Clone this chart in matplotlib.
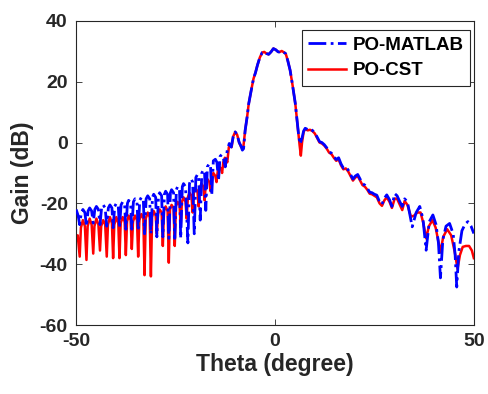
import matplotlib
matplotlib.use('Agg')
import matplotlib.pyplot as plt

# radiation pattern, PO-MATLAB vs PO-CST
theta_cst = [-50.0, -49.6, -49.1, -48.8, -48.3, -47.8, -47.4, -47.1, -46.6, -46.1,
             -45.7, -45.4, -44.9, -44.4, -44.0, -43.7, -43.2, -42.7, -42.3, -42.0,
             -41.5, -41.0, -40.7, -40.4, -39.9, -39.4, -39.1, -38.8, -38.3, -37.8,
             -37.5, -37.2, -36.8, -36.3, -36.0, -35.7, -35.2, -34.7, -34.4, -34.1,
             -33.6, -33.1, -32.8, -32.5, -32.0, -31.5, -31.2, -30.9, -30.5, -30.0,
             -29.7, -29.4, -29.0, -28.5, -28.2, -27.9, -27.5, -27.0, -26.7, -26.4,
             -26.0, -25.5, -25.2, -24.9, -24.5, -24.0, -23.7, -23.4, -23.0, -22.5,
             -22.2, -21.9, -21.5, -21.0, -20.7, -20.4, -20.0, -19.5, -19.2, -18.9,
             -18.5, -18.0, -17.7, -17.4, -17.0, -16.5, -16.2, -15.9, -15.5, -15.0,
             -14.7, -14.4, -14.0, -13.6, -13.3, -13.0, -12.6, -12.3, -12.0, -11.6,
             -11.3, -10.9, -10.5, -10.0, -9.5, -9.0, -8.5, -8.0, -7.5, -7.0,
             -6.6, -6.0, -5.4, -4.9, -4.4, -3.8, -3.2, -2.7, -2.2, -1.6,
             -1.0, -0.4, 0.2, 0.8, 1.2, 1.7, 2.2, 2.7, 3.2, 3.8,
             4.4, 5.1, 5.6, 5.9, 6.2, 6.5, 6.8, 7.2, 7.6, 8.2,
             8.8, 9.4, 10.0, 10.6, 11.2, 11.8, 12.4, 13.0, 13.6, 14.2,
             14.8, 15.4, 16.0, 16.6, 17.2, 17.8, 18.4, 19.0, 19.6, 20.2,
             20.8, 21.4, 22.0, 22.6, 23.2, 23.8, 24.4, 25.0, 25.6, 26.3,
             26.9, 27.5, 28.1, 28.8, 29.4, 30.1, 30.7, 31.4, 32.0, 32.6,
             33.3, 34.2, 35.0, 35.8, 36.6, 37.3, 38.0, 38.7, 39.6, 40.4,
             41.0, 41.6, 42.3, 43.3, 44.3, 45.2, 45.9, 46.5, 47.2, 48.0,
             48.8, 49.5, 50.0]
gain_cst = [-32.0, -30.5, -37.5, -28.0, -25.5, -27.5, -38.6, -27.5, -25.0, -27.0,
            -36.5, -27.5, -25.0, -27.0, -35.5, -27.5, -25.5, -27.0, -37.5, -27.0,
            -24.5, -26.5, -38.0, -27.0, -24.5, -26.5, -38.0, -26.5, -24.5, -26.0,
            -37.0, -26.0, -24.0, -25.5, -35.0, -26.0, -24.0, -25.5, -37.5, -25.5,
            -23.5, -25.0, -43.6, -25.0, -23.0, -24.5, -44.0, -24.5, -22.5, -24.0,
            -30.0, -23.5, -22.0, -23.0, -34.0, -22.5, -21.0, -22.5, -39.5, -22.0,
            -20.5, -21.5, -34.0, -21.0, -19.5, -20.5, -27.0, -19.5, -18.0, -19.5,
            -25.0, -18.0, -16.5, -17.5, -23.0, -16.5, -15.0, -16.0, -21.0, -15.0,
            -13.5, -14.5, -19.0, -13.5, -12.0, -13.0, -16.0, -11.5, -10.0, -11.0,
            -13.0, -9.5, -8.0, -8.5, -10.0, -6.5, -5.0, -5.5, -6.5, -1.5,
            -0.5, -1.5, 2.0, 3.5, 2.5, 0.0, -1.5, -2.0, 4.0, 8.5,
            12.8, 17.0, 21.0, 23.0, 25.5, 28.0, 29.6, 29.8, 29.3, 29.0,
            29.8, 30.9, 30.5, 29.8, 29.8, 30.1, 29.7, 29.2, 27.0, 23.8,
            19.0, 12.9, 6.5, 3.0, -1.0, -4.3, 0.0, 3.5, 4.5, 4.0,
            4.2, 3.8, 3.0, 1.5, 0.0, -0.3, -1.0, -2.0, -3.3, -3.8,
            -5.0, -6.0, -5.5, -7.5, -8.8, -8.5, -9.5, -11.0, -12.5, -11.5,
            -11.0, -12.5, -14.0, -14.5, -15.5, -16.8, -17.0, -17.5, -18.0, -20.0,
            -20.8, -19.0, -18.0, -19.5, -21.5, -18.4, -18.5, -20.5, -22.2, -19.2,
            -20.5, -24.4, -24.0, -23.0, -23.0, -26.5, -31.5, -27.5, -25.5, -28.0,
            -32.0, -36.0, -31.0, -28.5, -30.5, -36.0, -41.5, -37.0, -34.3, -34.0,
            -34.0, -35.5, -38.0]

theta_mat = [-50.0, -49.5, -49.1, -48.7, -48.3, -47.8, -47.4, -47.0, -46.6, -46.1,
             -45.7, -45.3, -44.9, -44.4, -44.0, -43.6, -43.2, -42.7, -42.3, -41.9,
             -41.5, -41.0, -40.7, -40.3, -39.9, -39.4, -39.1, -38.7, -38.3, -37.8,
             -37.5, -37.1, -36.8, -36.3, -36.0, -35.6, -35.2, -34.7, -34.4, -34.0,
             -33.6, -33.1, -32.8, -32.4, -32.0, -31.5, -31.2, -30.8, -30.5, -30.0,
             -29.7, -29.3, -29.0, -28.5, -28.2, -27.8, -27.5, -27.0, -26.7, -26.3,
             -26.0, -25.5, -25.2, -24.8, -24.5, -24.0, -23.7, -23.3, -23.0, -22.5,
             -21.9, -21.5, -21.1, -20.7, -20.3, -19.9, -19.5, -19.2, -18.8, -18.4,
             -18.0, -17.7, -17.4, -17.0, -16.6, -16.2, -15.9, -15.5, -15.0, -14.6,
             -14.2, -13.8, -13.4, -13.0, -12.5, -12.0, -11.5, -11.0, -10.5, -10.0,
             -9.5, -9.0, -8.6, -8.2, -7.9, -7.5, -7.0, -6.6, -6.0, -5.4,
             -4.9, -4.4, -3.8, -3.2, -2.7, -2.2, -1.6, -1.0, -0.4, 0.2,
             0.8, 1.2, 1.7, 2.2, 2.7, 3.2, 3.8, 4.4, 5.1, 5.6,
             5.9, 6.3, 6.8, 7.2, 7.6, 8.2, 8.8, 9.4, 10.0, 10.6,
             11.2, 11.8, 12.4, 13.0, 13.6, 14.2, 14.8, 15.4, 16.0, 16.6,
             17.2, 17.8, 18.4, 19.0, 19.6, 20.2, 20.8, 21.4, 22.0, 22.6,
             23.2, 23.8, 24.4, 25.0, 25.6, 26.3, 26.9, 27.5, 28.1, 28.8,
             29.4, 30.1, 30.7, 31.4, 32.0, 32.6, 33.3, 34.5, 35.5, 36.4,
             37.2, 38.0, 38.8, 39.7, 40.5, 41.1, 41.6, 42.2, 43.0, 43.9,
             44.8, 45.3, 45.7, 46.2, 47.0, 47.8, 48.5, 49.3, 50.0]
gain_mat = [-22.0, -24.0, -27.0, -23.0, -22.0, -23.0, -27.5, -22.5, -21.5, -22.5,
            -26.5, -22.0, -21.0, -22.0, -27.0, -21.5, -20.5, -21.5, -27.5, -21.5,
            -20.5, -21.5, -28.0, -21.0, -20.0, -21.0, -28.0, -20.5, -19.5, -20.5,
            -28.5, -20.0, -19.0, -20.0, -28.5, -19.5, -18.5, -19.5, -29.0, -19.0,
            -18.0, -19.0, -30.0, -18.5, -17.5, -18.5, -30.0, -18.0, -17.0, -18.0,
            -31.0, -17.5, -16.5, -17.5, -31.0, -17.0, -16.0, -17.0, -31.5, -16.5,
            -15.5, -16.5, -31.5, -15.5, -14.5, -15.5, -31.5, -14.5, -13.5, -14.5,
            -33.0, -13.5, -12.0, -13.0, -30.0, -11.5, -10.5, -11.5, -25.5, -10.0,
            -9.0, -10.0, -22.3, -8.0, -7.0, -8.0, -17.3, -6.0, -5.5, -6.5,
            -12.5, -4.5, -4.0, -5.0, -8.0, -2.5, -0.3, -1.5, 2.0, 3.5,
            2.5, 0.0, -1.0, -2.5, -2.0, 4.0, 8.5, 12.8, 17.0, 21.0,
            23.0, 25.5, 28.0, 29.6, 29.8, 29.3, 29.0, 29.8, 30.9, 30.5,
            29.8, 29.8, 30.1, 29.7, 29.2, 27.0, 23.8, 19.0, 12.9, 6.5,
            3.0, -0.5, 1.5, 3.8, 4.7, 4.3, 4.5, 4.0, 3.2, 1.8,
            0.3, 0.0, -0.7, -1.7, -3.0, -3.5, -4.6, -5.6, -5.0, -7.0,
            -8.4, -8.0, -9.0, -10.5, -12.0, -11.0, -10.5, -12.0, -13.5, -14.0,
            -15.0, -16.3, -16.5, -17.0, -17.3, -19.5, -20.3, -18.3, -17.2, -18.8,
            -21.0, -16.8, -17.5, -19.5, -21.0, -18.5, -19.5, -27.7, -23.0, -21.0,
            -25.0, -35.4, -26.0, -23.8, -27.0, -33.0, -44.5, -32.0, -27.5, -26.6,
            -30.0, -37.0, -47.5, -36.0, -29.0, -26.8, -26.0, -27.5, -29.9]

plt.rcParams['font.family'] = 'Liberation Sans'
plt.rcParams['font.weight'] = 'bold'
plt.rcParams['axes.unicode_minus'] = False
txt = '#262626'

fig = plt.figure(figsize=(4.88, 3.94), dpi=100)
ax = fig.add_axes([0.156, 0.175, 0.815, 0.772])

l_cst, = ax.plot(theta_cst, gain_cst, color=(1, 0, 0), lw=1.8, zorder=2)
l_mat, = ax.plot(theta_mat, gain_mat, color=(0, 0, 1), lw=2.0, ls='-.', zorder=3)

ax.set_xlim(-50, 50)
ax.set_ylim(-60, 40)
ax.set_xticks([-50, 0, 50])
ax.set_yticks([-60, -40, -20, 0, 20, 40])
ax.tick_params(direction='in', top=True, right=True, labelsize=14,
               labelcolor=txt, color=txt, length=4, width=0.6, pad=6)
for sp in ax.spines.values():
    sp.set_linewidth(0.8)
    sp.set_color(txt)

ax.set_xlabel('Theta (degree)', fontsize=16.5, fontweight='bold', color=txt, labelpad=2)
ax.set_ylabel('Gain (dB)', fontsize=16.5, fontweight='bold', color=txt, labelpad=4)

leg = ax.legend([l_mat, l_cst], ['PO-MATLAB', 'PO-CST'], loc='upper right',
                bbox_to_anchor=(0.99, 0.97), fontsize=13.5, fancybox=False,
                framealpha=1, edgecolor=txt, handlelength=2.0, borderaxespad=0,
                borderpad=0.35, labelspacing=0.45, handletextpad=0.35)
leg.get_frame().set_linewidth(0.8)
for t in leg.get_texts():
    t.set_color('black')

fig.savefig('out.png', dpi=100)
